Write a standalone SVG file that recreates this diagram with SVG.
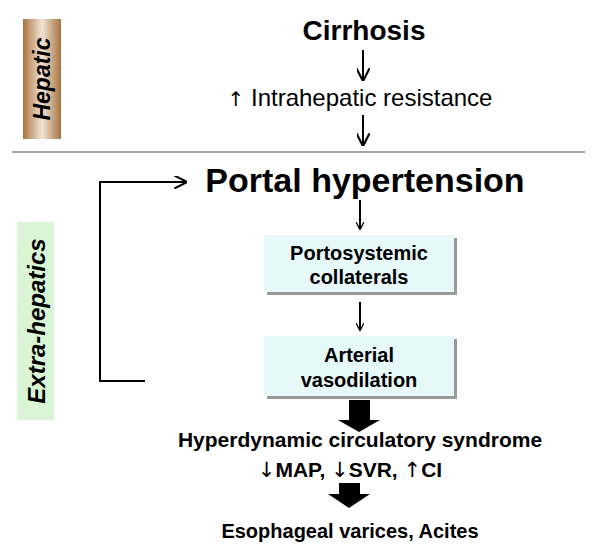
<svg xmlns="http://www.w3.org/2000/svg" width="600" height="554" viewBox="0 0 600 554">
<style>
text{font-family:"Liberation Sans",Arial,sans-serif;fill:#000}
.b{font-weight:bold}
.ar{font-family:"DejaVu Sans",sans-serif}
.ln{stroke:#000;stroke-width:2;fill:none}
.box{fill:#e6f8f8}
.sh{fill:#999}
</style>
<defs>
<marker id="ah" viewBox="0 0 10 10" refX="9" refY="5" markerWidth="8" markerHeight="8" orient="auto" markerUnits="userSpaceOnUse"><path d="M0,0 L10,5 L0,10" fill="none" stroke="#000" stroke-width="1.6"/></marker>
<marker id="ah2" viewBox="0 0 10 10" refX="9" refY="5" markerWidth="13" markerHeight="13" orient="auto" markerUnits="userSpaceOnUse"><path d="M0,0 L10,5 L0,10" fill="none" stroke="#000" stroke-width="1.6"/></marker>
<linearGradient id="brown" x1="0" x2="1" y1="0" y2="0"><stop offset="0" stop-color="#a8743f"/><stop offset="0.5" stop-color="#f2e4d6"/><stop offset="1" stop-color="#a8743f"/></linearGradient>
</defs>
<g id="hepatic-label"><rect x="23" y="19" width="38" height="120" fill="url(#brown)"/><text class="b" font-size="23" font-style="italic" transform="translate(50,79) rotate(-90)" text-anchor="middle">Hepatic</text></g>
<g id="extra-label"><rect x="17" y="222" width="37" height="198" fill="#d9f5d6"/><text class="b" font-size="24" font-style="italic" transform="translate(45,321) rotate(-90)" text-anchor="middle">Extra-hepatics</text></g>
<line x1="12" y1="152" x2="585" y2="152" stroke="#888" stroke-width="1.5"/>
<g id="cirrhosis"><text class="b" x="364" y="40" font-size="28" text-anchor="middle">Cirrhosis</text></g>
<g id="resistance"><text x="360" y="106" font-size="24" text-anchor="middle"><tspan class="ar" font-size="20">↑</tspan> Intrahepatic resistance</text></g>
<g id="portal"><text class="b" x="365" y="192" font-size="34" text-anchor="middle">Portal hypertension</text></g>
<g id="collaterals"><rect class="sh" x="267" y="238" width="190" height="57"/><rect class="box" x="264" y="235" width="190" height="57"/><text class="b" x="359" y="260" font-size="20" text-anchor="middle">Portosystemic</text><text class="b" x="359" y="284" font-size="20" text-anchor="middle">collaterals</text></g>
<g id="vasodilation"><rect class="sh" x="267" y="339" width="190" height="60"/><rect class="box" x="264" y="336" width="190" height="60"/><text class="b" x="359" y="362" font-size="20" text-anchor="middle">Arterial</text><text class="b" x="359" y="387" font-size="20" text-anchor="middle">vasodilation</text></g>
<g id="hyperdynamic"><text class="b" x="360" y="447" font-size="21" text-anchor="middle">Hyperdynamic circulatory syndrome</text><text class="b" x="350" y="477" font-size="21" text-anchor="middle"><tspan class="ar" font-weight="normal">↓</tspan>MAP, <tspan class="ar" font-weight="normal">↓</tspan>SVR, <tspan class="ar" font-weight="normal">↑</tspan>CI</text></g>
<g id="varices"><text class="b" x="350" y="538" font-size="20" text-anchor="middle">Esophageal varices, Acites</text></g>
<g id="connectors">
<line class="ln" x1="363" y1="50" x2="363" y2="80" marker-end="url(#ah2)"/>
<line class="ln" x1="363" y1="115" x2="363" y2="145" marker-end="url(#ah2)"/>
<line class="ln" x1="360" y1="200" x2="360" y2="229" stroke-width="1.5" marker-end="url(#ah)"/>
<line class="ln" x1="360" y1="302" x2="360" y2="330" stroke-width="1.5" marker-end="url(#ah)"/>
<path class="ln" d="M145,381 H100 V182 H186" marker-end="url(#ah2)"/>
<path d="M349,400 H370 V420 H380 L359,432 L338,420 H349 Z" fill="#000"/>
<path d="M339,483 H360 V494 H370 L349,508 L328,494 H339 Z" fill="#000"/>
</g>
</svg>
